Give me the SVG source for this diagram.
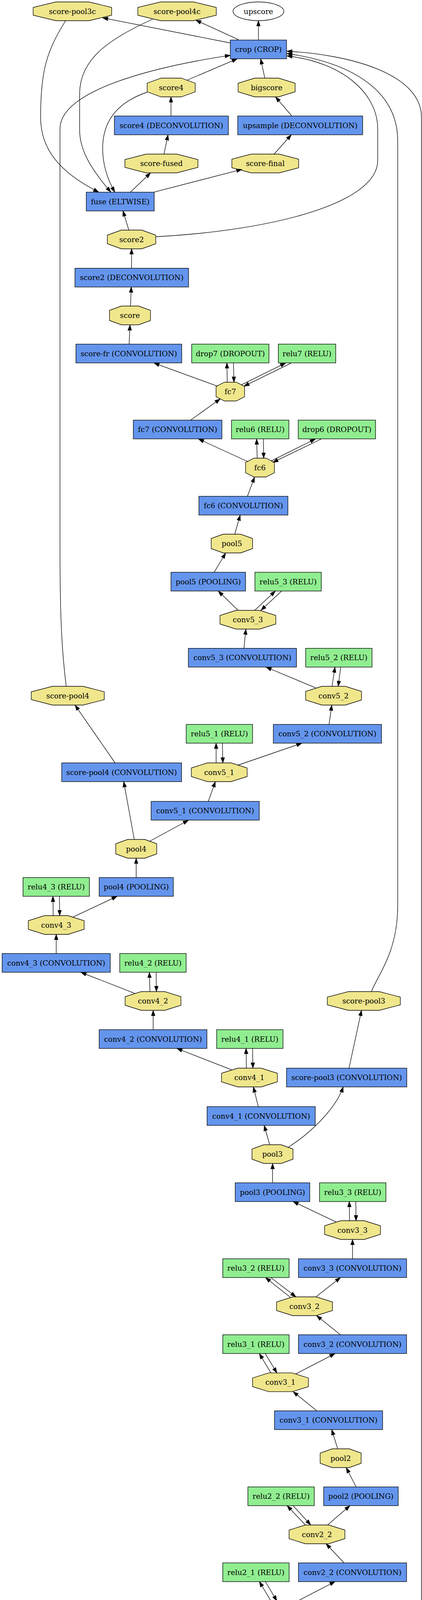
<svg xmlns="http://www.w3.org/2000/svg" width="1081" height="4931" viewBox="0 0 1081 4931">
<style>
.b{fill:#6495ED;stroke:#000;stroke-width:1.33}
.g{fill:#90EE90;stroke:#000;stroke-width:1.33}
.o{fill:#F0E68C;stroke:#000;stroke-width:1.33}
.e{fill:#fff;stroke:#000;stroke-width:1.33}
text{font-family:"DejaVu Serif","Liberation Serif",serif;font-size:18.7px;text-anchor:middle;fill:#000}
#edges path{fill:none;stroke:#000;stroke-width:1.33;marker-end:url(#arr)}
</style>
<defs>
<marker id="arr" markerUnits="userSpaceOnUse" markerWidth="15" markerHeight="11" viewBox="0 0 15 11" refX="14" refY="5.5" orient="auto"><path d="M0.5,0.8 L14,5.5 L0.5,10.2 z" fill="#000" stroke="#000" stroke-width="1"/></marker>
</defs>
<rect width="1081" height="4931" fill="#fff"/>
<g id="nodes">
<g id="score-pool3c"><polygon class="o" points="143.3,5 227.7,5 286,19 286,39 227.7,53 143.3,53 85,39 85,19"/><text x="185.5" y="35.5">score-pool3c</text></g>
<g id="score-pool4c"><polygon class="o" points="411.3,5 495.7,5 554,19 554,39 495.7,53 411.3,53 353,39 353,19"/><text x="453.5" y="35.5">score-pool4c</text></g>
<g id="upscore"><ellipse class="e" cx="662" cy="29" rx="65" ry="24"/><text x="662" y="35.5">upscore</text></g>
<g id="crop"><rect class="b" x="590" y="102.5" width="144" height="48"/><text x="662" y="133">crop (CROP)</text></g>
<g id="score4"><polygon class="o" points="412.7,200 464.3,200 500,213 500,235 464.3,248 412.7,248 377,235 377,213"/><text x="438.5" y="230.5">score4</text></g>
<g id="bigscore"><polygon class="o" points="652.3,200 713.7,200 756,213 756,235 713.7,248 652.3,248 610,235 610,213"/><text x="683" y="230.5">bigscore</text></g>
<g id="score4-deconv"><rect class="b" x="293" y="297" width="292" height="48"/><text x="439" y="327.5">score4 (DECONVOLUTION)</text></g>
<g id="upsample"><rect class="b" x="609" y="297" width="320" height="48"/><text x="769" y="327.5">upsample (DECONVOLUTION)</text></g>
<g id="score-fused"><polygon class="o" points="374.2,394.5 452.8,394.5 507,408.5 507,428.5 452.8,442.5 374.2,442.5 320,428.5 320,408.5"/><text x="413.5" y="425">score-fused</text></g>
<g id="score-final"><polygon class="o" points="643.6,394.5 715.4,394.5 765,407.5 765,429.5 715.4,442.5 643.6,442.5 594,429.5 594,407.5"/><text x="679.5" y="425">score-final</text></g>
<g id="fuse"><rect class="b" x="221" y="492" width="174" height="48"/><text x="308" y="522.5">fuse (ELTWISE)</text></g>
<g id="score2"><polygon class="o" points="311,589 363,589 399,602 399,624 363,637 311,637 275,624 275,602"/><text x="337" y="619.5">score2</text></g>
<g id="score2-deconv"><rect class="b" x="192" y="686.7" width="291" height="48"/><text x="337.5" y="717.2">score2 (DECONVOLUTION)</text></g>
<g id="score"><polygon class="o" points="311,783.5 355,783.5 385.5,794.5 385.5,820.5 355,831.5 311,831.5 280.5,820.5 280.5,794.5"/><text x="333" y="814">score</text></g>
<g id="score-fr"><rect class="b" x="194.5" y="881" width="271" height="48"/><text x="330" y="911.5">score-fr (CONVOLUTION)</text></g>
<g id="drop7"><rect class="g" x="491" y="881" width="198" height="48"/><text x="590" y="911.5">drop7 (DROPOUT)</text></g>
<g id="relu7"><rect class="g" x="713" y="881" width="147" height="48"/><text x="786.5" y="911.5">relu7 (RELU)</text></g>
<g id="fc7"><polygon class="o" points="574.7,978.5 605.3,978.5 626.5,989.5 626.5,1015.5 605.3,1026.5 574.7,1026.5 553.5,1015.5 553.5,989.5"/><text x="590" y="1009">fc7</text></g>
<g id="fc7-conv"><rect class="b" x="341.5" y="1075.5" width="227" height="48"/><text x="455" y="1106">fc7 (CONVOLUTION)</text></g>
<g id="relu6"><rect class="g" x="593" y="1075.5" width="147" height="48"/><text x="666.5" y="1106">relu6 (RELU)</text></g>
<g id="drop6"><rect class="g" x="764" y="1075.5" width="198" height="48"/><text x="863" y="1106">drop6 (DROPOUT)</text></g>
<g id="fc6"><polygon class="o" points="650.5,1173 681.5,1173 703,1184 703,1210 681.5,1221 650.5,1221 629,1210 629,1184"/><text x="666" y="1203.5">fc6</text></g>
<g id="fc6-conv"><rect class="b" x="509.5" y="1270.5" width="228" height="48"/><text x="623.5" y="1301">fc6 (CONVOLUTION)</text></g>
<g id="pool5"><polygon class="o" points="571.7,1367.5 616.3,1367.5 647,1378.5 647,1404.5 616.3,1415.5 571.7,1415.5 541,1404.5 541,1378.5"/><text x="594" y="1398">pool5</text></g>
<g id="pool5-pooling"><rect class="b" x="438" y="1465" width="191" height="48"/><text x="533.5" y="1495.5">pool5 (POOLING)</text></g>
<g id="relu5_3"><rect class="g" x="653" y="1465" width="170" height="48"/><text x="738" y="1495.5">relu5_3 (RELU)</text></g>
<g id="conv5_3"><polygon class="o" points="605,1562.5 665,1562.5 706.5,1575.5 706.5,1597.5 665,1610.5 605,1610.5 563.5,1597.5 563.5,1575.5"/><text x="635" y="1593">conv5_3</text></g>
<g id="conv5_3-conv"><rect class="b" x="482.5" y="1659.7" width="277" height="48"/><text x="621" y="1690.2">conv5_3 (CONVOLUTION)</text></g>
<g id="relu5_2"><rect class="g" x="783" y="1659.7" width="170" height="48"/><text x="868" y="1690.2">relu5_2 (RELU)</text></g>
<g id="conv5_2"><polygon class="o" points="824.5,1757 884.5,1757 926,1770 926,1792 884.5,1805 824.5,1805 783,1792 783,1770"/><text x="854.5" y="1787.5">conv5_2</text></g>
<g id="score-pool4"><polygon class="o" points="134.3,1757 212.9,1757 267.1,1771 267.1,1791 212.9,1805 134.3,1805 80.1,1791 80.1,1771"/><text x="173.6" y="1787.5">score-pool4</text></g>
<g id="relu5_1"><rect class="g" x="477" y="1854.5" width="170" height="48"/><text x="562" y="1885">relu5_1 (RELU)</text></g>
<g id="conv5_2-conv"><rect class="b" x="700.2" y="1854.5" width="277" height="48"/><text x="838.7" y="1885">conv5_2 (CONVOLUTION)</text></g>
<g id="score-pool4-conv"><rect class="b" x="158.1" y="1953" width="307" height="48"/><text x="311.6" y="1983.5">score-pool4 (CONVOLUTION)</text></g>
<g id="conv5_1"><polygon class="o" points="531.6,1953 591.6,1953 633.1,1966 633.1,1988 591.6,2001 531.6,2001 490.1,1988 490.1,1966"/><text x="561.6" y="1983.5">conv5_1</text></g>
<g id="conv5_1-conv"><rect class="b" x="387.1" y="2051.5" width="277" height="48"/><text x="525.6" y="2082">conv5_1 (CONVOLUTION)</text></g>
<g id="pool4"><polygon class="o" points="327,2149 371,2149 401.5,2160 401.5,2186 371,2197 327,2197 296.5,2186 296.5,2160"/><text x="349" y="2179.5">pool4</text></g>
<g id="relu4_3"><rect class="g" x="59" y="2246.5" width="170" height="48"/><text x="144" y="2277">relu4_3 (RELU)</text></g>
<g id="pool4-pooling"><rect class="b" x="254" y="2246.5" width="190" height="48"/><text x="349" y="2277">pool4 (POOLING)</text></g>
<g id="conv4_3"><polygon class="o" points="114,2344 174,2344 215.5,2357 215.5,2379 174,2392 114,2392 72.5,2379 72.5,2357"/><text x="144" y="2374.5">conv4_3</text></g>
<g id="conv4_3-conv"><rect class="b" x="5.5" y="2441" width="277" height="48"/><text x="144" y="2471.5">conv4_3 (CONVOLUTION)</text></g>
<g id="relu4_2"><rect class="g" x="306.7" y="2441" width="170" height="48"/><text x="391.7" y="2471.5">relu4_2 (RELU)</text></g>
<g id="conv4_2"><polygon class="o" points="362,2538.5 422,2538.5 463.5,2551.5 463.5,2573.5 422,2586.5 362,2586.5 320.5,2573.5 320.5,2551.5"/><text x="392" y="2569">conv4_2</text></g>
<g id="score-pool3"><polygon class="o" points="892.7,2538.5 971.3,2538.5 1025.5,2552.5 1025.5,2572.5 971.3,2586.5 892.7,2586.5 838.5,2572.5 838.5,2552.5"/><text x="932" y="2569">score-pool3</text></g>
<g id="conv4_2-conv"><rect class="b" x="254" y="2636" width="276" height="48"/><text x="392" y="2666.5">conv4_2 (CONVOLUTION)</text></g>
<g id="relu4_1"><rect class="g" x="555" y="2636" width="170" height="48"/><text x="640" y="2666.5">relu4_1 (RELU)</text></g>
<g id="conv4_1"><polygon class="o" points="609,2734.5 669,2734.5 710.5,2747.5 710.5,2769.5 669,2782.5 609,2782.5 567.5,2769.5 567.5,2747.5"/><text x="639" y="2765">conv4_1</text></g>
<g id="score-pool3-conv"><rect class="b" x="734" y="2734.5" width="308" height="48"/><text x="888" y="2765">score-pool3 (CONVOLUTION)</text></g>
<g id="conv4_1-conv"><rect class="b" x="530.5" y="2833" width="277" height="48"/><text x="669" y="2863.5">conv4_1 (CONVOLUTION)</text></g>
<g id="pool3"><polygon class="o" points="676,2930.5 720,2930.5 750.5,2941.5 750.5,2967.5 720,2978.5 676,2978.5 645.5,2967.5 645.5,2941.5"/><text x="698" y="2961">pool3</text></g>
<g id="pool3-pooling"><rect class="b" x="602.5" y="3028" width="191" height="48"/><text x="698" y="3058.5">pool3 (POOLING)</text></g>
<g id="relu3_3"><rect class="g" x="818.5" y="3028" width="170" height="48"/><text x="903.5" y="3058.5">relu3_3 (RELU)</text></g>
<g id="conv3_3"><polygon class="o" points="873,3125 933,3125 974.5,3138 974.5,3160 933,3173 873,3173 831.5,3160 831.5,3138"/><text x="903" y="3155.5">conv3_3</text></g>
<g id="relu3_2"><rect class="g" x="570.6" y="3222.5" width="170" height="48"/><text x="655.6" y="3253">relu3_2 (RELU)</text></g>
<g id="conv3_3-conv"><rect class="b" x="764.5" y="3222.5" width="277" height="48"/><text x="903" y="3253">conv3_3 (CONVOLUTION)</text></g>
<g id="conv3_2"><polygon class="o" points="750,3320 810,3320 851.5,3333 851.5,3355 810,3368 750,3368 708.5,3355 708.5,3333"/><text x="780" y="3350.5">conv3_2</text></g>
<g id="relu3_1"><rect class="g" x="570.6" y="3417" width="170" height="48"/><text x="655.6" y="3447.5">relu3_1 (RELU)</text></g>
<g id="conv3_2-conv"><rect class="b" x="764.5" y="3417" width="277" height="48"/><text x="903" y="3447.5">conv3_2 (CONVOLUTION)</text></g>
<g id="conv3_1"><polygon class="o" points="688.5,3514.7 748.5,3514.7 790,3527.7 790,3549.7 748.5,3562.7 688.5,3562.7 647,3549.7 647,3527.7"/><text x="718.5" y="3545.2">conv3_1</text></g>
<g id="conv3_1-conv"><rect class="b" x="703.1" y="3611.7" width="277" height="48"/><text x="841.6" y="3642.2">conv3_1 (CONVOLUTION)</text></g>
<g id="pool2"><polygon class="o" points="850.7,3709 894.7,3709 925.2,3720 925.2,3746 894.7,3757 850.7,3757 820.2,3746 820.2,3720"/><text x="872.7" y="3739.5">pool2</text></g>
<g id="relu2_2"><rect class="g" x="635" y="3806.5" width="170" height="48"/><text x="720" y="3837">relu2_2 (RELU)</text></g>
<g id="pool2-pooling"><rect class="b" x="829.1" y="3806.5" width="191" height="48"/><text x="924.6" y="3837">pool2 (POOLING)</text></g>
<g id="conv2_2"><polygon class="o" points="782,3904 842,3904 883.5,3917 883.5,3939 842,3952 782,3952 740.5,3939 740.5,3917"/><text x="812" y="3934.5">conv2_2</text></g>
<g id="relu2_1"><rect class="g" x="570.6" y="4001" width="170" height="48"/><text x="655.6" y="4031.5">relu2_1 (RELU)</text></g>
<g id="conv2_2-conv"><rect class="b" x="764.5" y="4001" width="277" height="48"/><text x="903" y="4031.5">conv2_2 (CONVOLUTION)</text></g>
<g id="conv2_1"><polygon class="o" points="688.5,4098 748.5,4098 790,4111 790,4133 748.5,4146 688.5,4146 647,4133 647,4111"/><text x="718.5" y="4128.5">conv2_1</text></g>
<g id="conv2_1-conv"><rect class="b" x="703.1" y="4196" width="277" height="48"/><text x="841.6" y="4226.5">conv2_1 (CONVOLUTION)</text></g>
<g id="pool1"><polygon class="o" points="850.7,4293 894.7,4293 925.2,4304 925.2,4330 894.7,4341 850.7,4341 820.2,4330 820.2,4304"/><text x="872.7" y="4323.5">pool1</text></g>
<g id="relu1_2"><rect class="g" x="635" y="4390.5" width="170" height="48"/><text x="720" y="4421">relu1_2 (RELU)</text></g>
<g id="pool1-pooling"><rect class="b" x="829.1" y="4390.5" width="191" height="48"/><text x="924.6" y="4421">pool1 (POOLING)</text></g>
<g id="conv1_2"><polygon class="o" points="736.4,4487.7 796.4,4487.7 837.9,4500.7 837.9,4522.7 796.4,4535.7 736.4,4535.7 694.9,4522.7 694.9,4500.7"/><text x="766.4" y="4518.2">conv1_2</text></g>
<g id="relu1_1"><rect class="g" x="525" y="4585" width="170" height="48"/><text x="610" y="4615.5">relu1_1 (RELU)</text></g>
<g id="conv1_2-conv"><rect class="b" x="719.5" y="4585" width="277" height="48"/><text x="858" y="4615.5">conv1_2 (CONVOLUTION)</text></g>
<g id="conv1_1"><polygon class="o" points="703,4682.7 763,4682.7 804.5,4695.7 804.5,4717.7 763,4730.7 703,4730.7 661.5,4717.7 661.5,4695.7"/><text x="733" y="4713.2">conv1_1</text></g>
<g id="conv1_1-conv"><rect class="b" x="680.1" y="4779.7" width="277" height="48"/><text x="818.6" y="4810.2">conv1_1 (CONVOLUTION)</text></g>
<g id="data"><polygon class="o" points="930.1,4877 967.9,4877 994,4888 994,4914 967.9,4925 930.1,4925 904,4914 904,4888"/><text x="949" y="4907.5">data</text></g>
</g>
<g id="edges">
<path d="M590,110 L263,45.7"/>
<path d="M611,101.7 L501.7,51.7"/>
<path d="M662,102 L662,53"/>
<path d="M479.6,205 L607.6,150.7"/>
<path d="M678.2,199.3 L667.8,150.7"/>
<path d="M438,296.7 L438,248.3"/>
<path d="M747.4,296.7 L705.9,248.3"/>
<path d="M420,394.3 L430.4,345.3"/>
<path d="M702.4,394.3 L746,345.3"/>
<path d="M334.3,491.7 L385.5,442.7"/>
<path d="M395.2,491.7 L619.4,433.7"/>
<path d="M330,589 L315,540"/>
<path d="M337,686.7 L337,637"/>
<path d="M334.3,783.3 L336.3,734.7"/>
<path d="M330.8,881 L332.9,832"/>
<path d="M557,988.7 L394.5,929.3"/>
<path d="M582,978.3 L581.3,929.3"/>
<path d="M598,929.3 L599.3,978.3"/>
<path d="M618,985.3 L731.5,929.3"/>
<path d="M746,929.3 L625,988.7"/>
<path d="M488.6,1075.3 L564,1021.3"/>
<path d="M635.3,1182 L508.7,1124"/>
<path d="M658.8,1172.7 L657.4,1124"/>
<path d="M674.7,1124 L675.4,1172.7"/>
<path d="M694,1180.3 L807.6,1124"/>
<path d="M822.8,1124 L699,1183.7"/>
<path d="M633.9,1270.3 L652,1221.5"/>
<path d="M601.4,1367.3 L615.2,1319"/>
<path d="M548.8,1464.7 L577.9,1416"/>
<path d="M609.7,1562.3 L559.2,1513.3"/>
<path d="M652.6,1562.3 L705.2,1513.3"/>
<path d="M721.1,1513.3 L668.5,1562.3"/>
<path d="M624.9,1659.3 L629.8,1610.7"/>
<path d="M809.7,1761.3 L681.7,1708"/>
<path d="M850.5,1757 L858.1,1708"/>
<path d="M872.7,1708 L866.4,1757"/>
<path d="M842.9,1854.3 L849.8,1805.3"/>
<path d="M553.6,1953 L553.6,1902.7"/>
<path d="M569.6,1902.7 L570.9,1953"/>
<path d="M609,1959 L773,1902.7"/>
<path d="M294.8,1953 L192.4,1805.3"/>
<path d="M533.6,2051.3 L551.6,2001.3"/>
<path d="M344,2149 L317,2001.3"/>
<path d="M382.7,2154 L482.4,2100"/>
<path d="M348.8,2246.3 L348.8,2197.3"/>
<path d="M136.3,2343.7 L135.6,2294.7"/>
<path d="M152.2,2294.7 L152.9,2343.7"/>
<path d="M185.5,2348.3 L299.7,2294.7"/>
<path d="M144,2441 L144,2392"/>
<path d="M346,2543.3 L207.6,2489.3"/>
<path d="M384.1,2538.3 L382.7,2489.3"/>
<path d="M400,2489.3 L400.7,2538.3"/>
<path d="M392.4,2635.3 L392.4,2586.7"/>
<path d="M593,2738.7 L453.3,2684"/>
<path d="M631.1,2734.3 L630.4,2684"/>
<path d="M647,2684 L647.8,2734.3"/>
<path d="M661.6,2832.7 L649.1,2782.7"/>
<path d="M894.1,2734.3 L926,2586.7"/>
<path d="M737,2937.7 C790,2905 860,2840 879,2782.7"/>
<path d="M690.7,2930.3 L676.8,2881.3"/>
<path d="M698.3,3027.7 L698.3,2978.7"/>
<path d="M861.6,3128.7 L750.9,3076"/>
<path d="M895.5,3125 L894.8,3076"/>
<path d="M911.4,3076 L912.1,3125"/>
<path d="M903,3222.3 L903,3173.3"/>
<path d="M744,3321.3 L680.3,3270.7"/>
<path d="M694,3270.7 L757.8,3319.7"/>
<path d="M809.7,3319.7 L872,3270.7"/>
<path d="M872,3417 L811,3368"/>
<path d="M694,3514.7 L664.4,3465.3"/>
<path d="M679.6,3465.3 L709.3,3514.7"/>
<path d="M757.8,3517.3 L858,3465.3"/>
<path d="M811,3611.3 L750.9,3562.7"/>
<path d="M865,3709 L849.8,3660"/>
<path d="M912,3806.3 L887,3757.3"/>
<path d="M782,3903.7 L735.6,3854.7"/>
<path d="M750.9,3854.7 L795.8,3903.7"/>
<path d="M839.4,3903.7 L896.2,3854.7"/>
<path d="M881,4000.7 L835.3,3952"/>
<path d="M694,4098.3 L664.4,4049"/>
<path d="M679.6,4049 L709.3,4098.3"/>
<path d="M757.8,4101 L858,4049"/>
<path d="M811,4195.7 L750.9,4146"/>
<path d="M865,4293 L849.8,4244"/>
<path d="M912,4390.3 L887,4341.3"/>
<path d="M747.4,4487.7 L725.3,4438.7"/>
<path d="M740.5,4438.7 L762.6,4487.7"/>
<path d="M801.4,4490 L885.8,4438.7"/>
<path d="M835.3,4584.7 L792.4,4535.7"/>
<path d="M697.6,4684.3 L635.3,4633.3"/>
<path d="M648.4,4633.3 L710.7,4682.7"/>
<path d="M763.3,4682.7 L825.6,4633.3"/>
<path d="M798,4779.3 L757.8,4730.7"/>
<path d="M920.4,4880.3 L853.3,4828"/>
<path d="M972.3,4880.3 C1025,4820 1079.6,4760 1079.6,4690 L1079.6,300 C1079.6,190 900,140 735,131"/>
<path d="M951.6,2538.3 C965,2500 1018.7,2440 1018.7,2320 L1018.7,360 C1018.7,250 930,165 735,137"/>
<path d="M399.3,606 C700,590 967.5,520 967.5,411 L967.5,330 C967.5,240 880,160 735,143"/>
<path d="M169.6,1757 C160,1680 153.6,1600 153.6,1400 L153.6,330 C153.6,230 400,170 590,141.7"/>
<path d="M168,53 C120,130 104,180 104,300 C104,380 150,440 252.6,491.7"/>
<path d="M391,49 C280,100 204,150 204,240 L204,333 C204,390 240,440 283.7,491.7"/>
<path d="M377,236 C300,262 263,310 263,380 C263,425 277,462 294,491.7"/>
</g>
</svg>
